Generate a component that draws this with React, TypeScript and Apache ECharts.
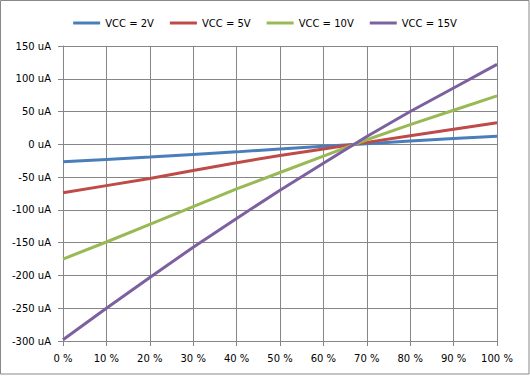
import React, { useEffect, useRef } from "react";
import * as echarts from "echarts";

const xValues = [0, 10, 20, 30, 40, 50, 60, 70, 80, 90, 100];
const seriesNames = ["VCC = 2V", "VCC = 5V", "VCC = 10V", "VCC = 15V"];
const vcc2 = [-26.5, -23, -19.5, -15.5, -11.5, -7, -3, 1, 5, 9, 12.5];
const vcc5 = [-74, -63, -52, -40, -28, -17, -7, 3, 13, 23, 33];
const vcc10 = [-175, -149, -122, -95, -68, -43, -18, 7, 30, 52, 74];
const vcc15 = [-298, -250, -203, -157, -113, -70, -29, 12, 50, 86, 122];
const colors = ["#4A7EBB", "#BE4B48", "#98B954", "#7D60A0"];

const FONT = "DejaVu Sans";

export default function App() {
  const ref = useRef<HTMLDivElement>(null);
  useEffect(() => {
    if (!ref.current) return;
    const chart = echarts.init(ref.current, null, { renderer: "svg" });
    const all = [vcc2, vcc5, vcc10, vcc15];
    chart.setOption({
      animation: false,
      backgroundColor: "#ffffff",
      color: colors,
      textStyle: { fontFamily: FONT },
      graphic: [
        {
          type: "rect",
          shape: { x: 0.5, y: 0.5, width: 528.5, height: 373.5 },
          style: { fill: "none", stroke: "#888888", lineWidth: 1 },
          silent: true,
        },
      ],
      legend: {
        top: 13,
        left: "center",
        itemWidth: 27,
        itemHeight: 3,
        itemGap: 16,
        icon: "rect",
        textStyle: { fontFamily: FONT, fontSize: 10, color: "#000" },
        data: seriesNames,
      },
      grid: { left: 63, right: 33, top: 46, bottom: 35 },
      xAxis: {
        type: "value",
        min: 0,
        max: 100,
        interval: 10,
        axisLine: { onZero: false, lineStyle: { color: "#868686", width: 1 } },
        axisTick: { show: true, length: 5, lineStyle: { color: "#868686" } },
        splitLine: { show: true, lineStyle: { color: "#868686", width: 1 } },
        axisLabel: {
          formatter: "{value} %",
          color: "#000",
          fontFamily: FONT,
          fontSize: 10,
          margin: 12,
        },
      },
      yAxis: {
        type: "value",
        min: -300,
        max: 150,
        interval: 50,
        axisLine: { show: true, lineStyle: { color: "#868686", width: 1 } },
        axisTick: { show: true, length: 5, lineStyle: { color: "#868686" } },
        splitLine: { show: true, lineStyle: { color: "#868686", width: 1 } },
        axisLabel: {
          formatter: "{value} uA",
          color: "#000",
          fontFamily: FONT,
          fontSize: 10,
          margin: 12,
        },
      },
      series: all.map((vals, i) => ({
        name: seriesNames[i],
        type: "line",
        showSymbol: false,
        symbol: "none",
        lineStyle: { width: 3, color: colors[i] },
        itemStyle: { color: colors[i] },
        data: xValues.map((x, j) => [x, vals[j]]),
      })),
    });
    return () => chart.dispose();
  }, []);
  return (
    <div
      ref={ref}
      style={{ position: "absolute", left: 0, top: 0, width: 530, height: 376 }}
    />
  );
}
